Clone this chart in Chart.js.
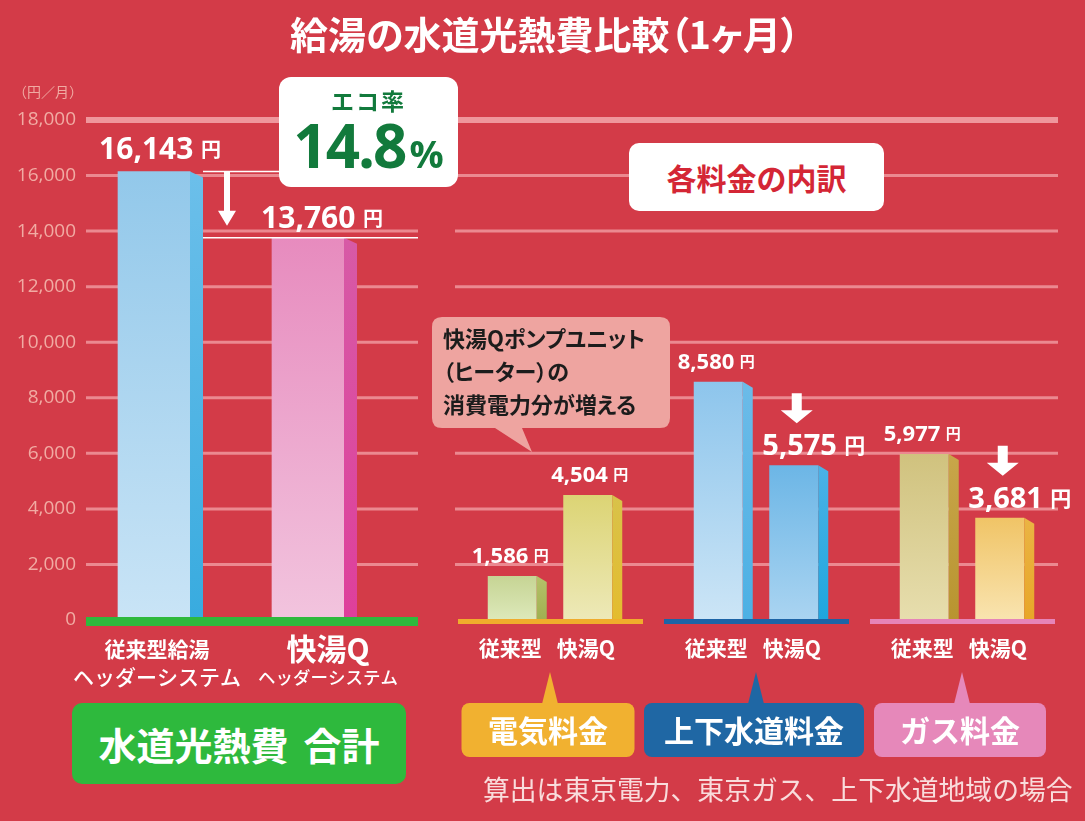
<!DOCTYPE html>
<html><head><meta charset="utf-8">
<script src="https://cdn.jsdelivr.net/npm/chart.js@4.4.1/dist/chart.umd.min.js"></script>
<style>
html,body{margin:0;padding:0;}
body{width:1085px;height:821px;background:#d33b48;position:relative;overflow:hidden;font-family:"Noto Sans CJK JP","Noto Sans",sans-serif;}
canvas{position:absolute;left:0;top:0;}
.abs{position:absolute;}
#title{left:0;width:1090px;top:7px;text-align:center;color:#fff;font-weight:700;font-size:38px;line-height:52px;font-feature-settings:"palt";}
#unit{left:13px;top:82px;color:#f0aaa2;font-size:14px;line-height:19px;}
#eco{left:279px;top:77px;width:179px;height:110px;background:#fff;border-radius:12px;text-align:center;color:#127a3c;font-weight:700;}
#eco .l1{font-size:23px;line-height:28px;margin-top:9px;letter-spacing:2px;}
#eco .l2{font-family:"Open Sans","Noto Sans",sans-serif;font-size:60px;line-height:66px;letter-spacing:-2px;margin-top:-2px;}
#eco .l2 span{font-size:38px;letter-spacing:0;margin-left:4px;}
#brk{left:629px;top:143px;width:255px;height:68px;background:#fff;border-radius:10px;text-align:center;color:#d42635;font-weight:700;font-size:30px;line-height:68px;}
#bubtxt{left:443px;top:321px;color:#1c1c1c;font-weight:700;font-size:22px;line-height:33px;white-space:nowrap;font-feature-settings:"palt";}
#total{left:72px;top:703px;width:334px;height:81px;background:#2eb93d;border-radius:10px;text-align:center;color:#fff;font-weight:700;font-size:38px;line-height:81px;}
#note{left:483px;top:772px;color:#f9dcdc;font-size:26.8px;line-height:34px;white-space:nowrap;}
</style>
</head><body>
<canvas id="cL" width="1085" height="821"></canvas>
<canvas id="cR" width="1085" height="821"></canvas>
<div id="title" class="abs">給湯の水道光熱費比較（1ヶ月）</div>
<div id="unit" class="abs">（円／月）</div>
<div id="eco" class="abs"><div class="l1">エコ率</div><div class="l2">14.8<span>%</span></div></div>
<div id="brk" class="abs">各料金の内訳</div>
<svg class="abs" style="left:425px;top:310px" width="260" height="150">
  <path d="M17 7 H235 Q245 7 245 17 V108 Q245 118 235 118 H97 L107 142 L70 118 H17 Q7 118 7 108 V17 Q7 7 17 7 Z" fill="#eea4a0"/>
</svg>
<div id="bubtxt" class="abs">快湯Qポンプユニット<br>（ヒーター）の<br>消費電力分が増える</div>
<div id="total" class="abs">水道光熱費&#8201;&#8201;合計</div>
<div id="note" class="abs">算出は東京電力、東京ガス、上下水道地域の場合</div>
<script>
// ---------- DATA ----------
const totalCategories = [['従来型給湯', 'ヘッダーシステム'], ['快湯Q', 'ヘッダーシステム']];
const totalValues = [16143, 13760];
const feeCategories = ['電気料金', '上下水道料金', 'ガス料金'];
const seriesNames = ['従来型', '快湯Q'];
const conventionalFees = [1586, 8580, 5977];
const kaiyuQFees = [4504, 5575, 3681];
const yMin = 0, yMax = 18000, yStep = 2000;

// ---------- STYLE ----------
const GRID = '#eb8990';
const GRID_TOP = '#ef969c';
const NUMFONT = '"Open Sans","Noto Sans",sans-serif';
const JPFONT = '"Noto Sans CJK JP","Noto Sans",sans-serif';
const totalFront = [['#92c8ea', '#c9e4f6'], ['#e78bbe', '#f2c4de']];
const totalSide = [['#6cbfea', '#38abdf'], ['#d75aa6', '#de3f9b']];
const feeFront = [
  [['#c6d494', '#dde9ba'], ['#8dc5ec', '#cce5f6'], ['#d0c27e', '#e7deae']],
  [['#dcd474', '#ede9b8'], ['#6cb6e6', '#aad4f1'], ['#f0c466', '#f9e4b0']]
];
const feeSide = [
  [['#b5c16a', '#a0b050'], ['#6cbbe8', '#4cb0e4'], ['#c8a64a', '#b89430']],
  [['#d8c24a', '#e4bc2e'], ['#4cb2e6', '#1ea6de'], ['#eab444', '#e8a628']]
];
const tagColors = ['#f1b130', '#1f67a4', '#e688ba'];
const tagWidths = [173, 220, 172];
const baseColors = ['#f0ac2c', '#1d64a6', '#e684b8'];
const totalLabelStyle = [{num: 30, yen: 20, dx: 6, gap: 13}, {num: 30, yen: 20, dx: 14, gap: 10}];
const smallLabel = {num: 22, yen: 15, dx: 0, gap: 13};
const bigLabel = {num: 29, yen: 21, dx: 20, gap: 10};

function vGrad(ctx, y0, y1, c) {
  const g = ctx.createLinearGradient(0, y0, 0, y1);
  g.addColorStop(0, c[0]); g.addColorStop(1, c[1]);
  return g;
}
function barFill(colors) {
  return (c) => {
    const chart = c.chart;
    if (!chart.chartArea || c.raw == null) return colors[0][0];
    const ys = chart.scales.y;
    return vGrad(chart.ctx, ys.getPixelForValue(c.raw), ys.getPixelForValue(0), colors[c.dataIndex]);
  };
}
function drawGrid(chart, x0, x1, withTop, topX1) {
  const ctx = chart.ctx, ys = chart.scales.y;
  ctx.save();
  for (let v = yMin + yStep; v <= yMax; v += yStep) {
    const y = ys.getPixelForValue(v);
    if (v === yMax) {
      if (!withTop) continue;
      ctx.strokeStyle = GRID_TOP; ctx.lineWidth = 6;
      ctx.beginPath(); ctx.moveTo(x0, y); ctx.lineTo(topX1, y); ctx.stroke();
    } else {
      ctx.strokeStyle = GRID; ctx.lineWidth = 3;
      ctx.beginPath(); ctx.moveTo(x0, y); ctx.lineTo(x1, y); ctx.stroke();
    }
  }
  ctx.restore();
}
function drawSides(chart, sideColors, s, sl) {
  const ctx = chart.ctx;
  chart.data.datasets.forEach((ds, di) => {
    chart.getDatasetMeta(di).data.forEach((el, i) => {
      const p = el.getProps(['x', 'y', 'width', 'base'], true);
      const r = p.x + p.width / 2;
      ctx.save();
      ctx.fillStyle = vGrad(ctx, p.y, p.base, sideColors[di][i]);
      ctx.beginPath();
      ctx.moveTo(r, p.y); ctx.lineTo(r + s, p.y + sl); ctx.lineTo(r + s, p.base); ctx.lineTo(r, p.base);
      ctx.closePath(); ctx.fill();
      ctx.restore();
    });
  });
}
function drawValue(ctx, v, cx, bottom, st) {
  const num = v.toLocaleString('en-US');
  ctx.save();
  ctx.fillStyle = '#fff';
  ctx.textBaseline = 'alphabetic';
  ctx.textAlign = 'left';
  ctx.font = `700 ${st.num}px ${NUMFONT}`;
  const wn = ctx.measureText(num).width;
  ctx.font = `700 ${st.yen}px ${JPFONT}`;
  const wy = ctx.measureText('円').width;
  const gap = st.num * 0.25;
  const x0 = cx - (wn + gap + wy) / 2;
  ctx.font = `700 ${st.num}px ${NUMFONT}`;
  ctx.fillText(num, x0, bottom);
  ctx.font = `700 ${st.yen}px ${JPFONT}`;
  ctx.fillText('円', x0 + wn + gap, bottom - st.yen * 0.1);
  ctx.restore();
}
function drawArrow(ctx, cx, y0, y1, shaft, headW, headH) {
  ctx.save();
  ctx.fillStyle = '#fff';
  ctx.beginPath();
  ctx.moveTo(cx - shaft / 2, y0); ctx.lineTo(cx + shaft / 2, y0);
  ctx.lineTo(cx + shaft / 2, y1 - headH); ctx.lineTo(cx + headW / 2, y1 - headH);
  ctx.lineTo(cx, y1); ctx.lineTo(cx - headW / 2, y1 - headH);
  ctx.lineTo(cx - shaft / 2, y1 - headH); ctx.closePath(); ctx.fill();
  ctx.restore();
}
function text(ctx, s, x, y, font, color) {
  ctx.save();
  ctx.font = font; ctx.fillStyle = color || '#fff';
  ctx.textAlign = 'center'; ctx.textBaseline = 'middle';
  ctx.fillText(s, x, y);
  ctx.restore();
}

// ---------- LEFT CHART (totals) ----------
const leftDeco = {
  id: 'leftDeco',
  beforeDatasetsDraw(chart) { drawGrid(chart, 86, 418, true, 1058); },
  afterDatasetsDraw(chart) {
    const ctx = chart.ctx;
    drawSides(chart, [totalSide], 13, 6);
    const ys = chart.scales.y;
    const base = ys.getPixelForValue(0);
    ctx.save(); ctx.fillStyle = '#2eb93d'; ctx.fillRect(86, base - 3, 332, 9); ctx.restore();
    const els = chart.getDatasetMeta(0).data;
    const p0 = els[0].getProps(['x', 'y', 'width'], true);
    const p1 = els[1].getProps(['x', 'y', 'width'], true);
    const r0 = p0.x + p0.width / 2 + 13;
    ctx.save(); ctx.strokeStyle = '#fff'; ctx.lineWidth = 1.5;
    ctx.beginPath(); ctx.moveTo(r0, p0.y); ctx.lineTo(282, p0.y); ctx.stroke();
    ctx.beginPath(); ctx.moveTo(r0, p1.y); ctx.lineTo(418, p1.y); ctx.stroke();
    ctx.restore();
    drawArrow(ctx, r0 + 24, p0.y, p1.y - 12, 6, 18, 15);
    els.forEach((el, i) => {
      const p = el.getProps(['x', 'y'], true);
      const st = totalLabelStyle[i];
      drawValue(ctx, totalValues[i], p.x + st.dx, p.y - st.gap, st);
    });
    const xs = chart.scales.x;
    const l1 = [`700 21px ${JPFONT}`, `700 30px ${JPFONT}`];
    const l2 = [`500 21px ${JPFONT}`, `500 17.5px ${JPFONT}`];
    const dx = [3, 20];
    totalCategories.forEach((lab, i) => {
      const cx = xs.getPixelForTick(i) + dx[i];
      text(ctx, lab[0], cx, base + 29, l1[i]);
      text(ctx, lab[1], cx, base + 57, l2[i]);
    });
  }
};

new Chart(document.getElementById('cL'), {
  type: 'bar',
  data: {
    labels: totalCategories,
    datasets: [{ data: totalValues, backgroundColor: barFill(totalFront), barThickness: 72, borderWidth: 0 }]
  },
  options: {
    responsive: false, animation: false,
    layout: { padding: { top: 120, bottom: 201, left: 0, right: 700 } },
    plugins: { legend: { display: false }, tooltip: { enabled: false } },
    scales: {
      x: { display: false },
      y: {
        min: yMin, max: yMax,
        ticks: { stepSize: yStep, padding: 1, color: '#f1aba3', font: { family: NUMFONT, size: 19 },
                 callback: v => v.toLocaleString('en-US') },
        grid: { display: false, drawTicks: false }, border: { display: false },
        afterFit: s => { s.width = 77; }
      }
    }
  },
  plugins: [leftDeco]
});

// ---------- RIGHT CHART (breakdown) ----------
const rightDeco = {
  id: 'rightDeco',
  beforeDatasetsDraw(chart) { drawGrid(chart, 455, 1058, false); },
  afterDatasetsDraw(chart) {
    const ctx = chart.ctx;
    drawSides(chart, feeSide, 10, 6);
    const ys = chart.scales.y, xs = chart.scales.x;
    const base = ys.getPixelForValue(0);
    feeCategories.forEach((cat, i) => {
      const cx = xs.getPixelForTick(i);
      ctx.save(); ctx.fillStyle = baseColors[i]; ctx.fillRect(cx - 92, base - 1, 185, 5); ctx.restore();
      ctx.save();
      const w = tagWidths[i];
      ctx.fillStyle = tagColors[i];
      ctx.beginPath(); ctx.roundRect(cx - w / 2 - 2, 703, w, 54, 8); ctx.fill();
      ctx.beginPath(); ctx.moveTo(cx - 8, 704); ctx.lineTo(cx, 672); ctx.lineTo(cx + 8, 704); ctx.closePath(); ctx.fill();
      ctx.restore();
      text(ctx, cat, cx - 2, 731, `700 30px ${JPFONT}`);
    });
    const series = [conventionalFees, kaiyuQFees];
    chart.data.datasets.forEach((ds, di) => {
      chart.getDatasetMeta(di).data.forEach((el, i) => {
        const p = el.getProps(['x', 'y'], true);
        text(ctx, seriesNames[di], p.x - 2, base + 28, `700 21px ${JPFONT}`);
        const down = di === 1 && kaiyuQFees[i] < conventionalFees[i];
        const st = down ? bigLabel : smallLabel;
        const bottom = p.y - st.gap;
        drawValue(ctx, series[di][i], p.x + (down ? st.dx : (di === 0 ? -2 : 2)), bottom, st);
        if (down) {
          const ab = bottom - st.num * 0.72 - 11;
          drawArrow(ctx, p.x + 3, ab - 30, ab, 10, 32, 13);
        }
      });
    });
  }
};

new Chart(document.getElementById('cR'), {
  type: 'bar',
  data: {
    labels: feeCategories,
    datasets: [
      { label: seriesNames[0], data: conventionalFees, backgroundColor: barFill(feeFront[0]), borderWidth: 0 },
      { label: seriesNames[1], data: kaiyuQFees, backgroundColor: barFill(feeFront[1]), borderWidth: 0 }
    ]
  },
  options: {
    responsive: false, animation: false,
    datasets: { bar: { categoryPercentage: 0.733, barPercentage: 0.649 } },
    layout: { padding: { top: 120, bottom: 201, left: 447, right: 20 } },
    plugins: { legend: { display: false }, tooltip: { enabled: false } },
    scales: {
      x: { display: false },
      y: { display: false, min: yMin, max: yMax }
    }
  },
  plugins: [rightDeco]
});
</script>
</body></html>
